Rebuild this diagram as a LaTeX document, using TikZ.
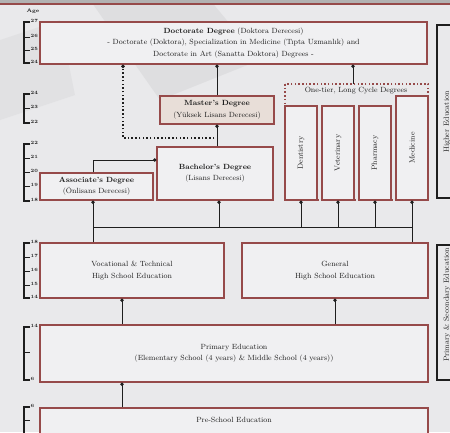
\documentclass[tikz,border=0pt]{standalone}
\usetikzlibrary{arrows.meta}
\definecolor{bg}{RGB}{233,233,235}
\definecolor{boxred}{RGB}{150,74,74}
\definecolor{boxfill}{RGB}{240,240,242}
\definecolor{tan}{RGB}{232,222,216}
\definecolor{ink}{RGB}{30,30,30}
\tikzset{
  box/.style={draw=boxred, line width=1.3pt, fill=boxfill, inner sep=0pt, align=center,
              font=\fontsize{7.5}{11.5}\selectfont, text=ink},
  vbox/.style={box, minimum width=32pt},
  conn/.style={draw=ink, line width=0.8pt},
  arr/.style={conn, -{Circle[length=3.2pt]}},
  dotarr/.style={conn, line width=1.2pt, dash pattern=on 1.5pt off 2.2pt, -{Circle[length=3.4pt]}},
  bracketline/.style={draw=ink, line width=1.2pt},
  agelbl/.style={font=\fontsize{4.8}{5}\selectfont\bfseries, text=ink, inner sep=0.5pt, anchor=west},
  sidelbl/.style={font=\fontsize{7.5}{8}\selectfont, text=ink, rotate=90, inner sep=0pt}
}
\begin{document}
\begin{tikzpicture}[x=1pt,y=-1pt]
\useasboundingbox (0,0) rectangle (450,432);
\fill[bg] (0,0) rectangle (450,432);
% scanned background shading
\fill[gray!40, opacity=0.35] (90,0) -- (210,0) -- (260,60) -- (160,100) -- cycle;
\fill[gray!40, opacity=0.25] (0,40) -- (60,20) -- (75,95) -- (0,120) -- cycle;
\fill[gray!60] (0,0) rectangle (450,3);
\draw[boxred, line width=1.2pt] (0,4) -- (450,4);

% ---------------- boxes ----------------
\node[box, minimum width=387pt, minimum height=42pt] (doc) at (233.5,43)
  {\fontsize{7.5}{13}\selectfont\textbf{Doctorate Degree} (Doktora Derecesi)\\
   - Doctorate (Doktora), Specialization in Medicine (T\i pta Uzmanl\i k) and\\
   Doctorate in Art (Sanatta Doktora) Degrees -};
\node[box, fill=tan, minimum width=114pt, minimum height=28pt] (mas) at (217,110)
  {\textbf{Master's Degree}\\(Y\"uksek Lisans Derecesi)};
\node[box, minimum width=116pt, minimum height=53pt] (bac) at (215,173.5)
  {\textbf{Bachelor's Degree}\\(Lisans Derecesi)};
\node[box, minimum width=113pt, minimum height=27pt] (aso) at (96.5,186.5)
  {\textbf{Associate's Degree}\\(\"Onlisans Derecesi)};

% long cycle dotted frame
\draw[boxred, line width=1.3pt, dash pattern=on 1.5pt off 2.2pt] (285,84) rectangle (428,200);
\node[font=\fontsize{7.5}{8}\selectfont, text=ink, inner sep=0pt] (lcd) at (356,90.5)
  {One-tier, Long Cycle Degrees};
\coordinate (lctop) at (353,84);

\node[vbox, minimum height=94pt] (den) at (301,153) {\rotatebox{90}{Dentistry}};
\node[vbox, minimum height=94pt] (vet) at (338,153) {\rotatebox{90}{Veterinary}};
\node[vbox, minimum height=94pt] (pha) at (375,153) {\rotatebox{90}{Pharmacy}};
\node[vbox, minimum height=104pt] (med) at (412,148) {\rotatebox{90}{Medicine}};

\node[box, minimum width=184pt, minimum height=55pt] (voc) at (132,270.5)
  {Vocational \& Technical\\High School Education};
\node[box, minimum width=186pt, minimum height=55pt] (gen) at (335,270.5)
  {General\\High School Education};
\node[box, minimum width=388pt, minimum height=57pt] (pri) at (234,353.5)
  {Primary Education\\(Elementary School (4 years) \& Middle School (4 years))};
\node[box, minimum width=388pt, minimum height=50pt] (pre) at (234,433) {};
\node[font=\fontsize{7.5}{8}\selectfont, text=ink, inner sep=0pt] (pret) at (234,420)
  {Pre-School Education};

% ---------------- connectors ----------------
\draw[arr] (mas.north) -- (mas.north |- doc.south);
\draw[arr] (bac.north -| mas.south) -- (mas.south);
\coordinate (dj) at (218,138);
\coordinate (dl) at (123,138);
\draw[dotarr] (dj) -- (dl) -- (dl |- doc.south);
\draw[arr] (lctop) -- (lctop |- doc.south);
\coordinate (ab) at (93,160);
\draw[arr] (aso.north -| ab) -- (ab) -- (ab -| bac.west);

% bus from high schools
\coordinate (xa) at (93,227);
\coordinate (xb) at (219,227);
\coordinate (xm) at (412,227);
\draw[conn] (xa) -- (xm);
\draw[arr] (voc.north -| xa) -- (aso.south -| xa);
\draw[arr] (xb) -- (bac.south -| xb);
\draw[arr] (xa -| den.south) -- (den.south);
\draw[arr] (xa -| vet.south) -- (vet.south);
\draw[arr] (xa -| pha.south) -- (pha.south);
\draw[arr] (gen.north -| xm) -- (med.south);

\coordinate (xv) at (122,0);
\draw[arr] (pri.north -| xv) -- (voc.south -| xv);
\draw[arr] (pri.north -| gen.south) -- (gen.south);
\draw[arr] (pre.north -| xv) -- (pri.south -| xv);

% ---------------- age brackets ----------------
\node[font=\fontsize{5}{6}\selectfont\bfseries, text=ink, inner sep=0pt] (age) at (33,11) {Age};
\newcommand{\agebracket}[3]{%
  \draw[bracketline] (30,#1) -- (24,#1) -- (24,#2) -- (30,#2);
  \foreach \yy/\lab in {#3} {
    \draw[ink, line width=0.9pt] (24,\yy) -- (30,\yy);
    \node[agelbl] at (30,\yy-1.5) {\lab};
  }}
\agebracket{22}{63}{22/27,37/26,50/25,63/24}
\agebracket{94}{123}{94/24,108/23,123/22}
\agebracket{144}{201}{144/22,158/21,172/20,186/19,201/18}
\agebracket{243}{298}{243/18,257/17,271/16,285/15,298/14}
\agebracket{327}{380}{327/14,352/{},380/6}
\agebracket{407}{440}{407/6,420/{}}

% ---------------- side brackets ----------------
\draw[bracketline] (450,25) -- (437,25) -- (437,198) -- (450,198);
\node[sidelbl] (he) at (447,122) {Higher Education};
\draw[bracketline] (450,245) -- (437,245) -- (437,380) -- (450,380);
\node[sidelbl] (ps) at (447,305) {Primary \& Secondary Education};
\end{tikzpicture}
\end{document}
